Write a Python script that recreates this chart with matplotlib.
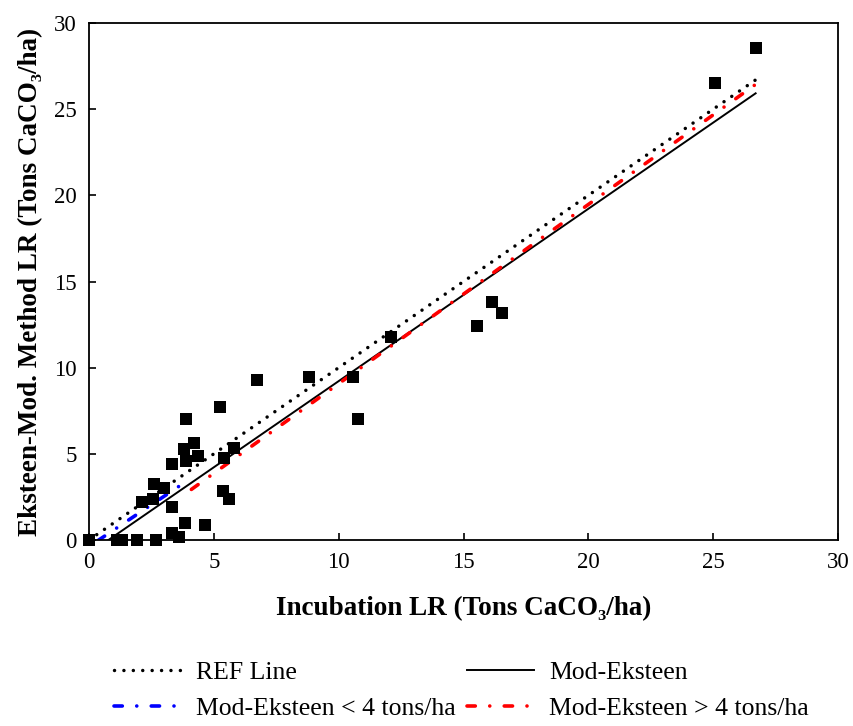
import matplotlib
matplotlib.use("Agg")
import matplotlib.pyplot as plt
import numpy as np

plt.rcParams['font.family'] = ['Liberation Serif', 'DejaVu Serif']

# Observed data: Incubation LR vs Eksteen-Mod. method LR
incubation = [0.0, 1.12, 1.32, 1.93, 2.68, 3.6, 3.32, 3.84, 4.64, 3.32, 2.12, 2.56,
              2.6, 3.0, 3.32, 3.8, 3.9, 3.88, 4.2, 4.37, 5.4, 5.37, 5.61, 5.25,
              5.8, 6.73, 8.81, 10.57, 10.77, 12.1, 15.54, 16.14, 16.54, 25.07, 26.7]
eksteen = [0.0, 0.0, 0.0, 0.0, 0.0, 0.17, 0.41, 0.99, 0.87, 1.92, 2.2, 2.39,
           3.25, 3.0, 4.4, 5.3, 4.58, 7.0, 5.64, 4.87, 4.76, 2.84, 2.38, 7.71,
           5.34, 9.29, 9.46, 9.46, 7.02, 11.78, 12.4, 13.8, 13.2, 26.5, 28.55]

# Line end points (x) and fitted coefficients
ref_x = [0.0, 26.7]
mod_x = [0.78, 26.7]
mod_coef = (1.0, -0.78)
low_x = [0.35, 3.6]
low_coef = (0.97, -0.38)
high_x = [4.1, 26.7]
high_coef = (1.04, -1.33)

fig = plt.figure(figsize=(8.54, 7.26), dpi=100)
ax = fig.add_axes([0.1042, 0.2562, 0.8771, 0.7121])

ax.plot(ref_x, ref_x, color='black', linestyle=(0, (0.01, 2.7)), linewidth=2.5,
        dash_capstyle='round', label='REF Line')
mx = np.array(mod_x)
ax.plot(mx, mod_coef[0] * mx + mod_coef[1], color='black', linewidth=1.4,
        label='Mod-Eksteen')
dashdot = (0, (2.3, 4.0, 0.01, 4.0))
lx = np.array(low_x)
ax.plot(lx, low_coef[0] * lx + low_coef[1], color='#0000ff', linewidth=2.6,
        linestyle=dashdot, dash_capstyle='round', label='Mod-Eksteen < 4 tons/ha')
hx = np.array(high_x)
ax.plot(hx, high_coef[0] * hx + high_coef[1], color='#ff0000', linewidth=2.6,
        linestyle=dashdot, dash_capstyle='round', label='Mod-Eksteen > 4 tons/ha')

ax.scatter(incubation, eksteen, marker='s', s=72, color='black', zorder=5,
           clip_on=False, linewidths=0)

ax.set_xlim(0, 30)
ax.set_ylim(0, 30)
ax.set_xticks(range(0, 31, 5))
ax.set_yticks(range(0, 31, 5))
ax.tick_params(direction='in', length=5, width=1.2, labelsize=16.5, pad=9,
               top=False, right=False)
for s in ax.spines.values():
    s.set_linewidth(1.3)

ax.set_xlabel('Incubation LR (Tons CaCO\u2083/ha)', fontsize=19.5, fontweight='bold',
              labelpad=16)
ax.set_ylabel('Eksteen-Mod. Method LR (Tons CaCO\u2083/ha)', fontsize=19.5,
              fontweight='bold', labelpad=8)

h, l = ax.get_legend_handles_labels()
order = [0, 2, 1, 3]
fig.legend([h[i] for i in order], [l[i] for i in order], ncol=2,
           loc='upper left', bbox_to_anchor=(0.121, 0.103), frameon=False,
           fontsize=18.5, handlelength=2.6, handletextpad=0.6,
           columnspacing=0.45, labelspacing=0.5, borderaxespad=0)

fig.savefig('out.png', dpi=100)
